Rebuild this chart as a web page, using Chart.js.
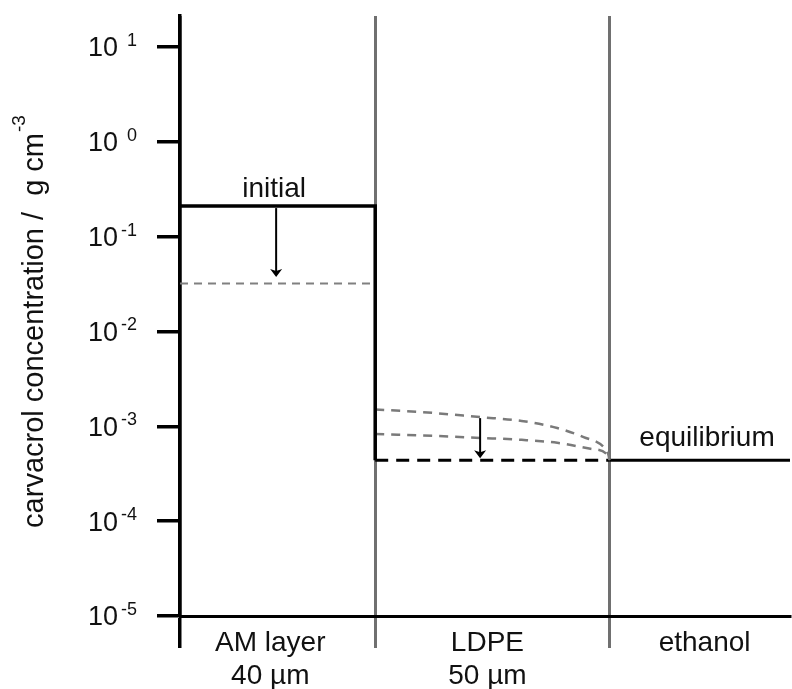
<!DOCTYPE html>
<html>
<head>
<meta charset="utf-8">
<script src="https://cdn.jsdelivr.net/npm/chart.js@4.4.1/dist/chart.umd.min.js"></script>
<style>
  body { margin: 0; background: #fff; }
</style>
</head>
<body>
<canvas id="myChart" width="792" height="689"></canvas>
<script>
// layer boundaries along the film (depth units, AM layer starts at 0)
const layerEdges = [0, 40, 88];
const layerNames = [["AM layer", "40 µm"], ["LDPE", "50 µm"], ["ethanol"]];
const layerCenters = [18.5, 63, 107.5];
const xMax = 125;

// decades on the log axis
const yExponents = [1, 0, -1, -2, -3, -4, -5];
const yMin = 1e-5;
const yMax = 21.2;

// carvacrol levels, g cm-3
const initialLevel = 0.21;
const amAfter = 0.032;
const eqLevel = 4.4e-4;

// intermediate profiles inside the LDPE film
const ldpeX1 = [40, 49, 61.5, 70, 77.3, 82.7, 86.8, 87.8, 88];
const ldpeY1 = [1.5e-3, 1.42e-3, 1.25e-3, 1.14e-3, 9.6e-4, 7.7e-4, 6.05e-4, 5.0e-4, 4.4e-4];
const ldpeX2 = [40, 52.7, 61.5, 70, 77.3, 84.1, 87.6, 88];
const ldpeY2 = [8.3e-4, 7.9e-4, 7.55e-4, 7.2e-4, 6.7e-4, 5.8e-4, 5.0e-4, 4.4e-4];

// arrows (x, start, tip)
const arrowX = [19.7, 61.5];
const arrowFrom = [0.2, 1.22e-3];
const arrowTo = [0.0376, 4.6e-4];

const FONT = "'Liberation Sans', Arial, Helvetica, sans-serif";

function toPoints(xs, ys) {
  return xs.map((x, i) => ({ x: x, y: ys[i] }));
}

// draws arrows, annotations, tick labels and axis title
const labelPlugin = {
  id: "labels",
  afterDatasetsDraw(chart) {
    const c = chart.ctx;
    const xs = chart.scales.x;
    const ys = chart.scales.y;
    const area = chart.chartArea;
    c.save();

    // arrows
    c.strokeStyle = "#000";
    c.fillStyle = "#000";
    c.lineWidth = 2;
    arrowX.forEach((ax, i) => {
      const px = xs.getPixelForValue(ax);
      const p1 = ys.getPixelForValue(arrowFrom[i]);
      const p2 = ys.getPixelForValue(arrowTo[i]);
      c.beginPath();
      c.moveTo(px, p1);
      c.lineTo(px, p2 - 5);
      c.stroke();
      c.beginPath();
      c.moveTo(px, p2);
      c.lineTo(px - 6, p2 - 8);
      c.lineTo(px, p2 - 6);
      c.lineTo(px + 6, p2 - 8);
      c.closePath();
      c.fill();
    });

    c.fillStyle = "#111";
    c.textAlign = "center";
    c.textBaseline = "alphabetic";
    c.font = "28px " + FONT;
    c.fillText("initial", xs.getPixelForValue(19.3), ys.getPixelForValue(initialLevel) - 9);
    c.fillText("equilibrium", xs.getPixelForValue(108), ys.getPixelForValue(eqLevel) - 14);

    // layer names under the x axis
    layerNames.forEach((lines, i) => {
      const px = xs.getPixelForValue(layerCenters[i]);
      lines.forEach((t, j) => {
        c.fillText(t, px, area.bottom + 35 + j * 33);
      });
    });

    // y tick labels 10^n
    yExponents.forEach(e => {
      const py = ys.getPixelForValue(Math.pow(10, e));
      c.textAlign = "right";
      c.textBaseline = "middle";
      c.font = "27px " + FONT;
      c.fillText("10", 118, py + 2);
      c.font = "18px " + FONT;
      c.fillText(String(e), 137, py - 6);
    });

    // rotated y axis title with superscript
    c.save();
    c.translate(43, 322);
    c.rotate(-Math.PI / 2);
    c.textAlign = "left";
    c.textBaseline = "alphabetic";
    const main = "carvacrol concentration /  g cm";
    c.font = "29px " + FONT;
    const w1 = c.measureText(main).width;
    c.font = "19px " + FONT;
    const w2 = c.measureText("-3").width;
    const x0 = -(w1 + w2) / 2;
    c.font = "29px " + FONT;
    c.fillText(main, x0, 0);
    c.font = "19px " + FONT;
    c.fillText("-3", x0 + w1 + 1, -18);
    c.restore();

    c.restore();
  }
};

const ctx = document.getElementById("myChart");

new Chart(ctx, {
  type: "line",
  data: {
    datasets: [
      {
        // initial level in AM layer, step down at the interface
        data: [
          { x: layerEdges[0], y: initialLevel },
          { x: layerEdges[1], y: initialLevel },
          { x: layerEdges[1], y: eqLevel }
        ],
        borderColor: "#000",
        borderWidth: 3.5
      },
      {
        data: [{ x: layerEdges[0], y: amAfter }, { x: 39, y: amAfter }],
        borderColor: "#808080",
        borderWidth: 2,
        borderDash: [8, 6]
      },
      {
        data: toPoints(ldpeX1, ldpeY1),
        borderColor: "#7a7a7a",
        borderWidth: 2.5,
        borderDash: [9, 7],
        cubicInterpolationMode: "monotone"
      },
      {
        data: toPoints(ldpeX2, ldpeY2),
        borderColor: "#7a7a7a",
        borderWidth: 2.5,
        borderDash: [9, 7],
        cubicInterpolationMode: "monotone"
      },
      {
        data: [{ x: layerEdges[1], y: eqLevel }, { x: layerEdges[2], y: eqLevel }],
        borderColor: "#000",
        borderWidth: 3,
        borderDash: [13, 8]
      },
      {
        data: [{ x: layerEdges[2], y: eqLevel }, { x: xMax, y: eqLevel }],
        borderColor: "#000",
        borderWidth: 3
      }
    ]
  },
  options: {
    responsive: false,
    animation: false,
    devicePixelRatio: 1,
    layout: { padding: { left: 157, top: 16, right: 2, bottom: 41 } },
    plugins: { legend: { display: false }, tooltip: { enabled: false } },
    elements: { point: { radius: 0 }, line: { fill: false, borderCapStyle: "butt" } },
    scales: {
      x: {
        type: "linear",
        min: 0,
        max: xMax,
        afterBuildTicks: s => { s.ticks = layerEdges.map(v => ({ value: v })); },
        ticks: { display: false },
        grid: {
          color: c => (c.tick && c.tick.value === 0 ? "#000" : "#707070"),
          lineWidth: c => (c.tick && c.tick.value === 0 ? 3.5 : 3),
          tickLength: 32,
          drawOnChartArea: true
        },
        border: { color: "#000", width: 3 }
      },
      y: {
        type: "logarithmic",
        min: yMin,
        max: yMax,
        afterBuildTicks: s => { s.ticks = yExponents.map(e => ({ value: Math.pow(10, e) })); },
        ticks: { display: false },
        grid: { drawOnChartArea: false, color: "#000", lineWidth: 3.5, tickLength: 23 },
        border: { color: "#000", width: 3.5 }
      }
    }
  },
  plugins: [labelPlugin]
});
</script>
</body>
</html>
